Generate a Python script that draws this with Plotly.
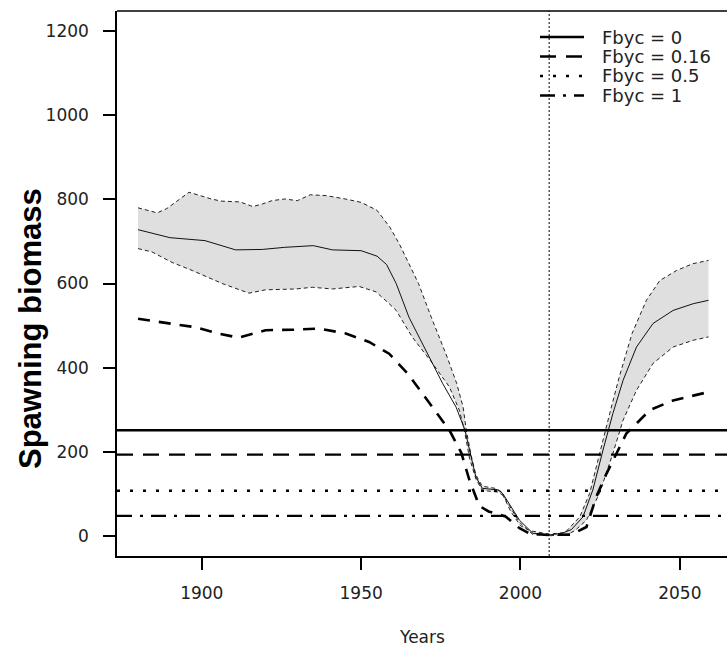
import plotly.graph_objects as go

# ---------------- data ----------------
upper_years = [1880, 1886, 1889, 1896, 1903, 1906, 1912, 1916, 1919, 1922, 1926, 1930, 1934, 1939,
               1945, 1950, 1955, 1959, 1962, 1965, 1968, 1972, 1977, 1980, 1982, 1983, 1984.5, 1986,
               1988, 1992, 1994, 1997, 2000, 2003, 2009, 2014, 2018.6, 2021.7, 2024.8, 2028, 2031,
               2035, 2039.5, 2043.7, 2049, 2054, 2059]
upper_vals = [780, 768, 778, 817, 801, 796, 794, 783, 789, 797, 801, 797, 811, 809,
              801, 793, 774, 734, 694, 647, 600, 520, 425, 362, 306, 251, 192, 145,
              118, 113, 105, 57, 24, 12, 4, 8, 45, 101, 196, 291, 378,
              481, 560, 607, 631, 647, 655]

median_years = [1880, 1890, 1901, 1910.6, 1919, 1926, 1935, 1941, 1950, 1955, 1958, 1961, 1965,
                1970.3, 1975.6, 1979.8, 1982.6, 1984.5, 1986, 1988, 1993, 1994.5, 1996.5, 1999.7,
                2003.9, 2009, 2013, 2016, 2019.6, 2022.7, 2025.9, 2029, 2032.2, 2036.4, 2041.6,
                2047.9, 2054.2, 2059]
median_vals = [728, 709, 702, 680, 681, 686, 690, 680, 678, 665, 645, 600, 520,
               441, 362, 306, 251, 188, 140, 113, 109, 100, 77, 37,
               6, 2, 6, 15, 45, 109, 204, 291, 370, 449, 505,
               536, 552, 560]

lower_years = [1880, 1884.4, 1890.7, 1897, 1906.4, 1914.8, 1920, 1929.5, 1934.7, 1941, 1949.4,
               1954.7, 1958.8, 1961, 1966, 1972.4, 1977.7, 1980.8, 1982.4, 1984, 1986, 1988, 1993,
               1994.5, 1996.5, 1999.7, 2003.9, 2009, 2014.7, 2017, 2020.7, 2024.8, 2029, 2032.2,
               2036.4, 2041.6, 2047.9, 2054.2, 2059]
lower_vals = [683, 675, 650, 631, 600, 577, 585, 587, 591, 587, 593,
              580, 552, 536, 473, 410, 354, 299, 251, 185, 135, 108, 104,
              96, 72, 32, 3, 0, 3, 12, 37, 101, 196, 275,
              346, 410, 449, 465, 473]

alt_years = [1880, 1889.6, 1898, 1905.3, 1911.6, 1920, 1928.4, 1936.8, 1945.2, 1952.5, 1958.8,
             1964.6, 1969.3, 1973.5, 1977.7, 1981.4, 1984, 1987.1, 1990, 1992.4, 1995.5, 1999.7,
             2003, 2009, 2016, 2020.7, 2023.8, 2027, 2030.1, 2033.2, 2036.4, 2040.6, 2047.9,
             2054.2, 2059]
alt_vals = [516, 506, 496, 481, 471, 489, 490, 493, 481, 461, 433,
            386, 338, 295, 251, 198, 132, 71, 58, 53, 45, 18,
            5, 2, 3, 21, 93, 148, 196, 243, 267, 299, 322,
            334, 342]

ref_labels = ["Fbyc = 0", "Fbyc = 0.16", "Fbyc = 0.5", "Fbyc = 1"]
ref_levels = [251, 193, 107, 47.5]
current_year = 2009

x_ticks = [1900, 1950, 2000, 2050]
y_ticks = [0, 200, 400, 600, 800, 1000, 1200]
x_title = "Years"
y_title = "Spawning biomass"

# ---------------- figure ----------------
W, H = 728, 647
ML, MR, MT, MB = 117, 1, 11, 91
ref_dash = ["solid", "16px,10px", "3px,10px", "15px,8px,3px,8px"]
TICK_FONT = "DejaVu Sans"
TITLE_FONT = "Liberation Sans, Arial"

fig = go.Figure()

# uncertainty band
fig.add_trace(go.Scatter(
    x=upper_years + lower_years[::-1], y=upper_vals + lower_vals[::-1],
    fill="toself", fillcolor="#dfdfdf", line=dict(width=0), mode="lines",
    hoverinfo="skip", showlegend=False))
for yrs, vals in [(upper_years, upper_vals), (lower_years, lower_vals)]:
    fig.add_trace(go.Scatter(x=yrs, y=vals, mode="lines", showlegend=False,
                             line=dict(color="#222222", width=1, dash="4px,3px")))
fig.add_trace(go.Scatter(x=median_years, y=median_vals, mode="lines", showlegend=False,
                         line=dict(color="#111111", width=1)))
fig.add_trace(go.Scatter(x=alt_years, y=alt_vals, mode="lines", showlegend=False,
                         line=dict(color="#000000", width=2.6, dash="12px,9px")))

# reference levels
for lvl, d in zip(ref_levels, ref_dash):
    fig.add_hline(y=lvl, line=dict(color="#000000", width=2.4, dash=d))

fig.add_vline(x=current_year, line=dict(color="#000000", width=1, dash="2px,2px"))

# top frame line
fig.add_shape(type="line", xref="paper", yref="paper", x0=0, x1=1, y0=1, y1=1,
              line=dict(color="#000000", width=1.5))

pw = W - ML - MR
ph = H - MT - MB
def px2paper_x(px):
    return (px - ML) / pw
def px2paper_y(py):
    return 1 - (py - MT) / ph

# manual legend
legend_rows = [37, 56.5, 76, 95.5]
for lab, d, ry in zip(ref_labels, ref_dash, legend_rows):
    fig.add_shape(type="line", xref="paper", yref="paper",
                  x0=px2paper_x(540), x1=px2paper_x(584),
                  y0=px2paper_y(ry), y1=px2paper_y(ry),
                  line=dict(color="#000000", width=2.4, dash=d))
    fig.add_annotation(xref="paper", yref="paper", x=px2paper_x(600), y=px2paper_y(ry),
                       text=lab, showarrow=False, xanchor="left", yanchor="middle",
                       font=dict(family=TICK_FONT, size=18, color="#222222"))

# axis titles
fig.add_annotation(xref="paper", yref="paper", x=px2paper_x(422), y=px2paper_y(637),
                   text=x_title, showarrow=False, xanchor="center", yanchor="middle",
                   font=dict(family=TICK_FONT, size=17, color="#222222"))
fig.add_annotation(xref="paper", yref="paper", x=px2paper_x(30), y=px2paper_y(329),
                   text="<b>" + y_title + "</b>", showarrow=False, textangle=-90,
                   xanchor="center", yanchor="middle",
                   font=dict(family=TITLE_FONT, size=31, color="#000000"))

fig.update_layout(
    width=W, height=H,
    margin=dict(l=ML, r=MR, t=MT, b=MB, pad=0),
    paper_bgcolor="white", plot_bgcolor="white",
    font=dict(family=TICK_FONT, color="#222222"),
    showlegend=False,
)
fig.update_xaxes(range=[1873.4, 2064.8], tickvals=x_ticks, ticks="outside", ticklen=12,
                 tickwidth=1.5, tickcolor="#000000", showline=True, linecolor="#000000",
                 linewidth=1.5, showgrid=False, zeroline=False, automargin=False,
                 tickfont=dict(family=TICK_FONT, size=17, color="#222222"),
                 ticklabelstandoff=9)
fig.update_yaxes(range=[-48, 1248], tickvals=y_ticks, ticks="outside", ticklen=12,
                 tickwidth=1.5, tickcolor="#000000", showline=True, linecolor="#000000",
                 linewidth=1.5, showgrid=False, zeroline=False, automargin=False,
                 tickfont=dict(family=TICK_FONT, size=17, color="#222222"),
                 ticklabelstandoff=11)

fig.write_html("out.html", config={"displayModeBar": False},
               post_script="document.body.style.margin='0';document.body.style.overflow='hidden';")
